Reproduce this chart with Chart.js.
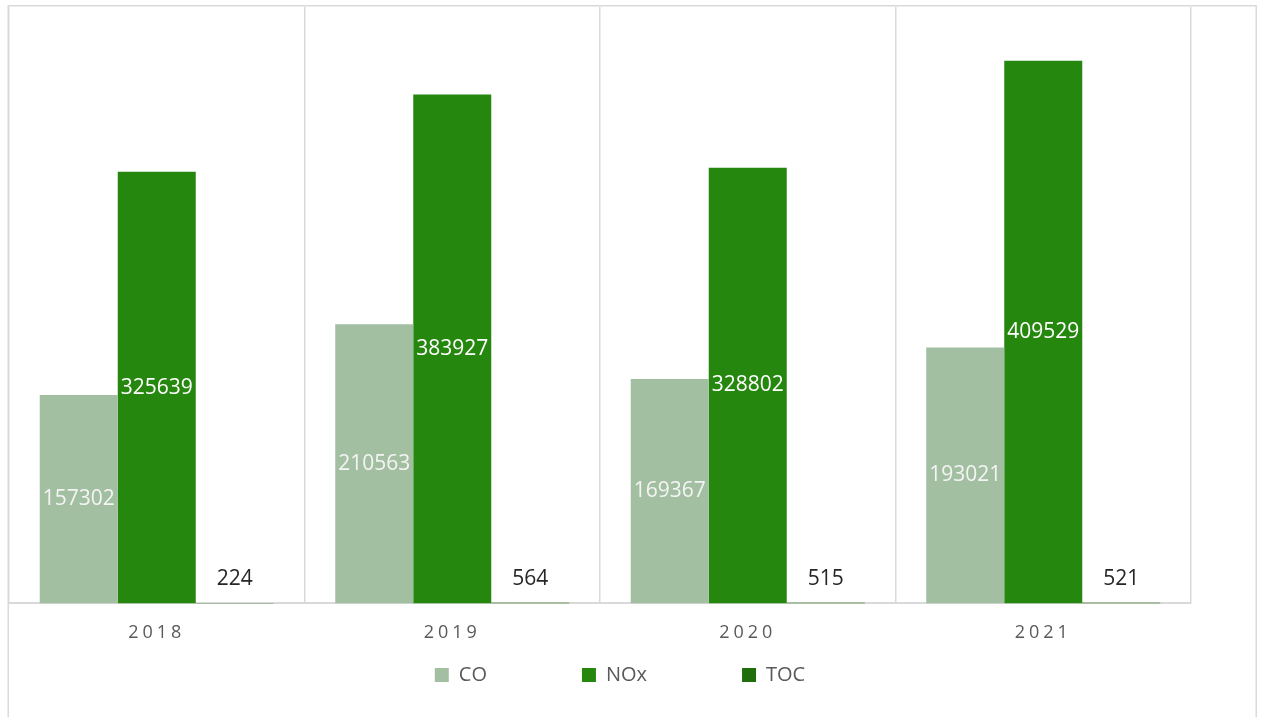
<!DOCTYPE html>
<html><head><meta charset="utf-8">
<script src="https://cdn.jsdelivr.net/npm/chart.js@4.4.0/dist/chart.umd.min.js"></script>
<style>html,body{margin:0;padding:0;background:#fff;} canvas{display:block;}</style>
</head><body>
<canvas id="c" width="1262" height="717"></canvas>
<script>
const categories = ['2018', '2019', '2020', '2021'];
const seriesNames = ['CO', 'NOx', 'TOC'];
const coValues = [157302, 210563, 169367, 193021];
const noxValues = [325639, 383927, 328802, 409529];
const tocValues = [224, 564, 515, 521];
const yMax = 450000;

const colors = ['#a3bfa2', '#26870f', '#1e6e0b'];
const FONT = "'Open Sans', 'DejaVu Sans', sans-serif";

const framePlugin = {
  id: 'frame',
  beforeDraw(chart) {
    const ctx = chart.ctx;
    ctx.save();
    ctx.fillStyle = '#ffffff';
    ctx.fillRect(0, 0, chart.width, chart.height);
    ctx.strokeStyle = '#d9d9d9';
    ctx.lineWidth = 1.5;
    ctx.strokeRect(8.25, 5.75, 1248, 730);
    ctx.restore();
  }
};

const layoutFix = {
  id: 'layoutFix',
  afterLayout(chart) {
    const L = chart.legend;
    if (L) {
      const pad = L.options.labels.padding;
      L.top = 675 - 10 - pad;
      L.bottom = L.top + pad + 40;
      L.height = L.bottom - L.top;
      const w = L.right - L.left;
      L.left = 620 - w / 2;
      L.right = L.left + w;
    }
    const s = chart.scales.x;
    if (s && !s._spaced) {
      const orig = s.drawLabels;
      s.drawLabels = function (area) {
        const c = this.ctx;
        c.save();
        c.letterSpacing = '4px';
        orig.call(this, area);
        c.restore();
      };
      s._spaced = true;
    }
  }
};

const valueLabels = {
  id: 'valueLabels',
  afterDatasetsDraw(chart) {
    const ctx = chart.ctx;
    ctx.save();
    ctx.font = '21px ' + FONT;
    ctx.textAlign = 'center';
    ctx.textBaseline = 'middle';
    chart.data.datasets.forEach((ds, i) => {
      const meta = chart.getDatasetMeta(i);
      meta.data.forEach((bar, j) => {
        const v = ds.data[j];
        const p = bar.getProps(['x', 'y', 'base'], true);
        if (i === 2) {
          ctx.fillStyle = '#262626';
          ctx.fillText(String(v), p.x, p.y - 24);
        } else {
          ctx.fillStyle = i === 0 ? '#f4f4f4' : '#ffffff';
          ctx.fillText(String(v), p.x, (p.y + p.base) / 2);
        }
      });
    });
    ctx.restore();
  }
};

const seriesValues = [coValues, noxValues, tocValues];

new Chart(document.getElementById('c'), {
  type: 'bar',
  data: {
    labels: categories,
    datasets: seriesNames.map((name, i) => ({
      label: name,
      data: seriesValues[i],
      backgroundColor: colors[i],
      borderWidth: 0,
      barPercentage: 1,
      categoryPercentage: 0.792
    }))
  },
  options: {
    responsive: false,
    animation: false,
    layout: { padding: { left: 9, right: 71, top: 7, bottom: 14 } },
    plugins: {
      title: { display: false },
      tooltip: { enabled: false },
      legend: {
        position: 'bottom',
        maxHeight: 40,
        labels: {
          boxWidth: 14,
          boxHeight: 14,
          padding: 95,
          color: '#595959',
          font: { family: FONT, size: 20 }
        }
      }
    },
    scales: {
      x: {
        grid: { display: true, offset: true, color: '#d9d9d9', lineWidth: 1.5, drawTicks: false },
        border: { display: true, color: '#d9d9d9', width: 2 },
        ticks: { color: '#595959', font: { family: FONT, size: 18 }, padding: 19 }
      },
      y: {
        display: false,
        min: 0,
        max: yMax
      }
    }
  },
  plugins: [framePlugin, layoutFix, valueLabels]
});
</script>
</body></html>
